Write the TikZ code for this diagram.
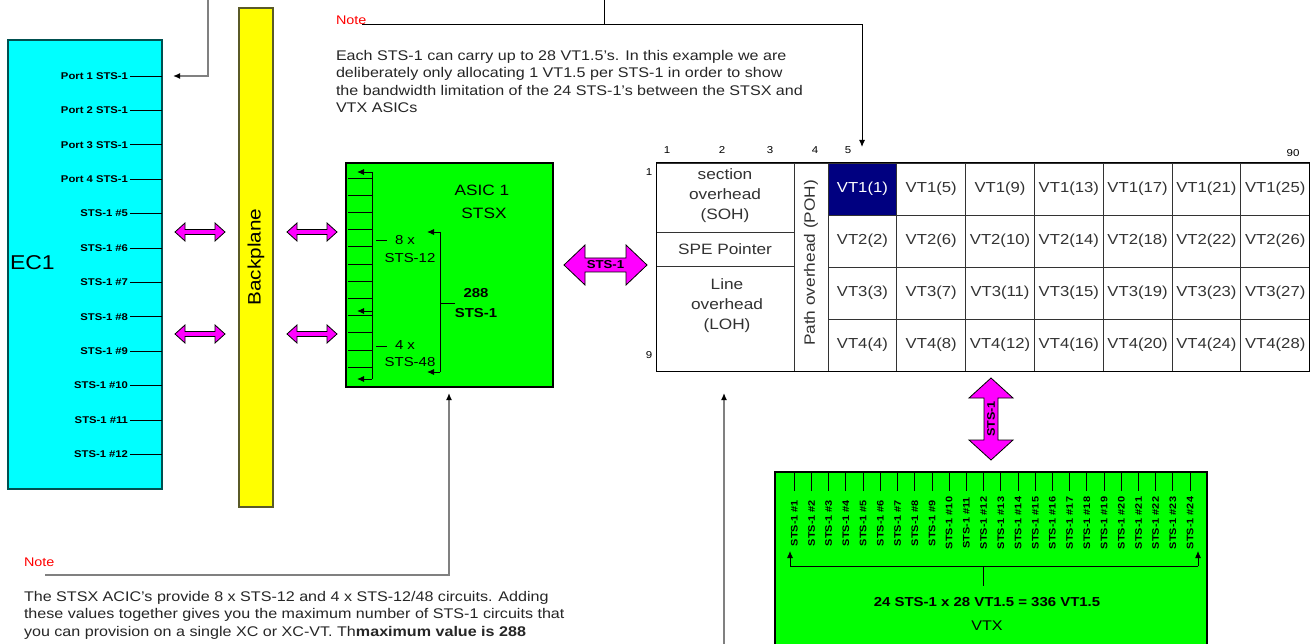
\documentclass[tikz,border=0pt]{standalone}
\usepackage{fontspec}
\setmainfont{Liberation Sans}[FakeStretch=1.15]
\usetikzlibrary{arrows.meta}
\definecolor{ecyan}{RGB}{0,255,255}
\definecolor{ecborder}{RGB}{0,80,80}
\definecolor{egreen}{RGB}{0,255,0}
\definecolor{emag}{RGB}{255,0,255}
\definecolor{eyel}{RGB}{255,255,0}
\definecolor{eyborder}{RGB}{90,90,40}
\definecolor{enavy}{RGB}{0,0,128}
\definecolor{egrey}{RGB}{128,128,128}
\definecolor{etxt}{RGB}{50,50,50}
\newcommand\fsz[2]{\fontsize{#1}{#2}\selectfont}
\newcommand\hfatarrow[6]{%
  \filldraw[fat] (#1,#3) -- ({#1+#6},{#3-#5}) -- ({#1+#6},{#3-#4}) -- ({#2-#6},{#3-#4}) -- ({#2-#6},{#3-#5}) -- (#2,#3) -- ({#2-#6},{#3+#5}) -- ({#2-#6},{#3+#4}) -- ({#1+#6},{#3+#4}) -- ({#1+#6},{#3+#5}) -- cycle;}
\newcommand\vfatarrow[6]{%
  \filldraw[fat] (#3,#1) -- ({#3-#5},{#1+#6}) -- ({#3-#4},{#1+#6}) -- ({#3-#4},{#2-#6}) -- ({#3-#5},{#2-#6}) -- (#3,#2) -- ({#3+#5},{#2-#6}) -- ({#3+#4},{#2-#6}) -- ({#3+#4},{#1+#6}) -- ({#3+#5},{#1+#6}) -- cycle;}
\begin{document}
\begin{tikzpicture}[x=1pt,y=-1pt,
  every node/.style={inner sep=0pt, outer sep=0pt},
  box/.style={draw, line width=1.2pt},
  tick/.style={line width=0.9pt},
  greyline/.style={draw=egrey, line width=1.3pt},
  blackline/.style={draw=black, line width=1pt},
  tip/.style={-{Latex[length=7pt,width=6pt,color=black]}},
  notehead/.style={text=red, font=\fsz{12.5}{14}, anchor=west},
  notetext/.style={font=\fsz{14}{17.5}, anchor=north west, align=left, text=black!85},
  portlab/.style={font=\fsz{9.8}{10}\bfseries, anchor=east},
  cell/.style={draw=black!80, line width=0.7pt, minimum width=68.8pt, minimum height=52pt, font=\fsz{14.5}{16}, text=etxt},
  tbltext/.style={font=\fsz{15}{20}, text=etxt, align=center},
  numlab/.style={font=\fsz{10}{11}},
  fat/.style={fill=emag, draw=black, line width=0.8pt},
]
\useasboundingbox (0,0) rectangle (1314,644);
\fill[white] (0,0) rectangle (1314,644);

% ---------- EC1 ----------
\node[box, draw=ecborder, fill=ecyan, minimum width=154pt, minimum height=449pt] (ec1) at (85,264.5) {};
\node[anchor=west, font=\fsz{20}{22}] (ec1lab) at (10,263) {EC1};
\foreach \lab [count=\i] in {Port 1 STS-1, Port 2 STS-1, Port 3 STS-1, Port 4 STS-1, STS-1 \#5, STS-1 \#6, STS-1 \#7, STS-1 \#8, STS-1 \#9, STS-1 \#10, STS-1 \#11, STS-1 \#12}{
  \pgfmathsetmacro\yy{76+34.4*(\i-1)}
  \node[portlab] (port\i) at (128,\yy) {\lab};
  \draw[tick] ([xshift=2pt]port\i.east) -- (ec1.east |- port\i.east);
}
\coordinate (c1s) at (208,0);
\coordinate (c1e) at (173,76);
\draw[greyline, tip] (c1s) |- (c1e);

% ---------- Backplane ----------
\node[box, draw=eyborder, fill=eyel, minimum width=34pt, minimum height=499pt] (bp) at (256,257.5) {};
\node[rotate=90, font=\fsz{18}{20}] (bplab) at (256,257) {Backplane};

% magenta link arrows
\hfatarrow{175}{225}{232}{2.5}{9}{10}
\hfatarrow{175}{225}{334}{2.5}{9}{10}
\hfatarrow{287}{337}{232}{2.5}{9}{10}
\hfatarrow{287}{337}{334}{2.5}{9}{10}

% ---------- ASIC 1 STSX ----------
\node[box, fill=egreen, minimum width=207pt, minimum height=224pt] (asic) at (449.5,275) {};
\foreach \k in {0,...,11}{
  \draw[tick] (348,{178+17.2*\k}) -- (372,{178+17.2*\k});
}
\draw[tick] (372,172) -- (372,379);
\draw[tick, tip] (372,172) -- (357,172);
\draw[tick, tip] (372,311) -- (357,311);
\draw[tick, tip] (372,379) -- (357,379);
\draw[tick] (376,240) -- (387,240);
\draw[tick] (376,346) -- (387,346);
\node[font=\fsz{13}{15}] (eightx) at (405,240) {8 x};
\node[font=\fsz{13}{15}] (sts12) at (410,258) {STS-12};
\node[font=\fsz{13}{15}] (fourx) at (405,345) {4 x};
\node[font=\fsz{13}{15}] (sts48) at (410,362) {STS-48};
\draw[tick] (440,232) -- (440,372);
\draw[tick, tip] (440,232) -- (427,232);
\draw[tick, tip] (440,372) -- (427,372);
\draw[tick] (440,303) -- (455,303);
\node[font=\fsz{13}{15}\bfseries] (n288) at (476,293) {288};
\node[font=\fsz{13}{15}\bfseries] (n288b) at (476,313) {STS-1};
\node[font=\fsz{15}{17}] (asict) at (482,190) {ASIC 1};
\node[font=\fsz{15}{17}] (stsxt) at (484,213) {STSX};

% STS-1 arrow between ASIC and frame
\hfatarrow{564}{647}{265}{7}{20}{21}
\node[font=\fsz{11.5}{12}\bfseries] (stsarrow) at (605.5,265) {STS-1};

% ---------- Top note ----------
\node[notehead] (note1) at (336,20) {Note};
\coordinate (n1a) at (362,25);
\coordinate (n1j) at (604,25);
\coordinate (n1top) at (604,0);
\coordinate (n1tip) at (862,147);
\draw[blackline] (n1top) -- (n1j);
\draw[blackline, tip] (n1a) -| (n1tip);
\node[notetext] (note1t) at (336,50) {Each STS-1 can carry up to 28 VT1.5's. In this example we are\\deliberately only allocating 1 VT1.5 per STS-1 in order to show\\the bandwidth limitation of the 24 STS-1's between the STSX and\\VTX ASICs};

% ---------- STS-1 frame table ----------
\node[draw=black!80, line width=0.8pt, minimum width=138pt, minimum height=208pt] (lsec) at (725,267) {};
\draw[black!80, line width=0.8pt] (656,232) -- (794,232);
\draw[black!80, line width=0.8pt] (656,266) -- (794,266);
\node[tbltext] (soh) at (725,196) {section\\overhead\\(SOH)};
\node[tbltext] (spe) at (725,249) {SPE Pointer};
\node[tbltext] (loh) at (727,306) {Line\\overhead\\(LOH)};
\node[draw=black!80, line width=0.8pt, minimum width=34pt, minimum height=208pt] (poh) at (811,267) {};
\node[rotate=90, font=\fsz{15}{16}, text=etxt] (pohlab) at (811,263) {Path overhead (POH)};
\foreach \c in {0,...,6}{
  \foreach \r in {0,...,3}{
    \pgfmathtruncatemacro\n{4*\c+\r+1}
    \pgfmathtruncatemacro\rr{\r+1}
    \ifnum\n=1
      \node[cell, fill=enavy, text=white] (v\n) at ({862.4+68.8*\c},{189+52*\r}) {VT\rr(\n)};
    \else
      \node[cell] (v\n) at ({862.4+68.8*\c},{189+52*\r}) {VT\rr(\n)};
    \fi
  }
}
\draw[line width=1pt] (656,163) rectangle (1309.6,371);
\node[numlab] (col1) at (667,150) {1};
\node[numlab] (col2) at (722,150) {2};
\node[numlab] (col3) at (770,150) {3};
\node[numlab] (col4) at (815,150) {4};
\node[numlab] (col5) at (848,150) {5};
\node[numlab] (col90) at (1293,153) {90};
\node[numlab] (row1) at (649,172) {1};
\node[numlab] (row9) at (649,355) {9};

\coordinate (b0) at (724,644);
\coordinate (b1) at (724,393);
\draw[greyline, tip] (b0) -- (b1);

% vertical STS arrow
\vfatarrow{378}{460}{991}{7}{22}{20}
\node[rotate=90, font=\fsz{11}{12}\bfseries] (stsv) at (991,419) {STS-1};

% ---------- VTX ----------
\node[fill=egreen, minimum width=432pt, minimum height=172pt, anchor=north west] (vtx) at (775,472) {};
\draw[line width=1.2pt] (775,644) -- (775,472) -- (1207,472) -- (1207,644);
\foreach \i in {1,...,24}{
  \pgfmathsetmacro\xx{794.3+17.21*(\i-1)}
  \draw[tick] (\xx,472) -- (\xx,491);
  \node[rotate=90, font=\fsz{9.5}{10}\bfseries] (vsts\i) at (\xx,523) {STS-1 \#\i};
}
\draw[tick] (790,566) -- (1198,566);
\draw[tick, tip] (790,566) -- (790,551);
\draw[tick, tip] (1198,566) -- (1198,551);
\draw[tick] (983,566) -- (983,586);
\node[font=\fsz{13}{15}\bfseries] (vtxcalc) at (987,602) {24 STS-1 x 28 VT1.5 = 336 VT1.5};
\node[font=\fsz{14}{16}] (vtxlab) at (987,626) {VTX};

% ---------- Bottom note ----------
\node[notehead] (note2) at (24,562) {Note};
\coordinate (n2a) at (45,575);
\coordinate (n2tip) at (449,393);
\draw[greyline, tip] (n2a) -| (n2tip);
\node[notetext] (note2t) at (24,591) {The STSX ACIC's provide 8 x STS-12 and 4 x STS-12/48 circuits. Adding\\these values together gives you the maximum number of STS-1 circuits that\\you can provision on a single XC or XC-VT. Th\textbf{maximum value is 288}};
\end{tikzpicture}
\end{document}
